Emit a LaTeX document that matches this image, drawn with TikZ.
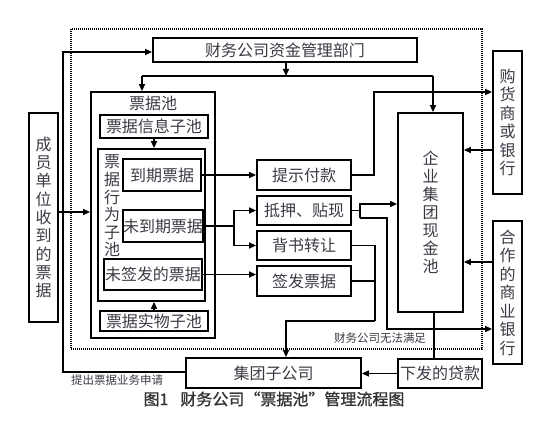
\documentclass[tikz,border=0pt]{standalone}
\usepackage{fontspec}
\setmainfont{Noto Sans CJK SC}
\newfontfamily\capfont[FakeBold=1.2]{Noto Sans CJK SC}
\usetikzlibrary{arrows.meta}
\definecolor{txt}{HTML}{3A3A44}
\begin{document}
\begin{tikzpicture}[x=1pt,y=-1pt,
  box/.style={draw,line width=1.8pt,inner sep=0pt,text=txt,font=\fontsize{16}{18.3}\selectfont,align=center},
  ln/.style={line width=1.5pt},
  arr/.style={ln,-{Triangle[length=7pt,width=6pt]}},
  lbl/.style={text=txt,inner sep=0pt}
]
\useasboundingbox (0,0) rectangle (550,425);
% dotted frame
\draw[line width=1.3pt,dash pattern=on 1pt off 1pt] (71,29) rectangle (482,349);

% nodes
\node[box,minimum width=264pt,minimum height=24pt] (cwb) at (285,50) {财务公司资金管理部门};
\node[box,minimum width=124pt,minimum height=246pt] (pool) at (153,215) {};
\node[lbl,font=\fontsize{16}{18}\selectfont] (pooltitle) at (153,103) {票据池};
\node[box,minimum width=108pt,minimum height=23pt] (info) at (154,126.5) {票据信息子池};
\node[box,minimum width=107pt,minimum height=152pt] (beh) at (151.5,225) {};
\node[lbl,align=center,font=\fontsize{16}{17.6}\selectfont] (behtitle) at (112,206) {票\\据\\行\\为\\子\\池};
\node[box,minimum width=78pt,minimum height=32pt] (due) at (162,175) {到期票据};
\node[box,minimum width=78pt,minimum height=32pt] (undue) at (163,226) {未到期票据};
\node[box,minimum width=98pt,minimum height=31pt] (unis) at (153,274.5) {未签发的票据};
\node[box,minimum width=108pt,minimum height=20pt] (phys) at (154,321) {票据实物子池};
\node[box,minimum width=29pt,minimum height=209pt] (member) at (43.5,217.5) {成\\员\\单\\位\\收\\到\\的\\票\\据};
\node[box,minimum width=94pt,minimum height=30pt] (pay) at (304,175) {提示付款};
\node[box,minimum width=94pt,minimum height=29pt] (pledge) at (304,210.5) {抵押、贴现};
\node[box,minimum width=94pt,minimum height=29pt] (endorse) at (304,245.5) {背书转让};
\node[box,minimum width=94pt,minimum height=30pt] (issue) at (304,281) {签发票据};
\node[box,minimum width=65pt,minimum height=199pt,font=\fontsize{16}{18}\selectfont] (cash) at (430.5,212.5) {企\\业\\集\\团\\现\\金\\池};
\node[box,minimum width=29pt,minimum height=143pt,font=\fontsize{16}{18.4}\selectfont] (buyer) at (507.5,122.5) {购\\货\\商\\或\\银\\行};
\node[box,minimum width=29pt,minimum height=143pt,font=\fontsize{16}{18.5}\selectfont] (bank) at (507.5,292.5) {合\\作\\的\\商\\业\\银\\行};
\node[box,minimum width=175pt,minimum height=30pt] (sub) at (273.5,373) {集团子公司};
\node[box,minimum width=84pt,minimum height=29pt] (loan) at (440,373.5) {下发的贷款};

% labels
\node[lbl,anchor=west,font=\fontsize{11.5}{12}\selectfont] (apply) at (71,380) {提出票据业务申请};
\node[lbl,font=\fontsize{11.5}{12}\selectfont] (cannot) at (380,338) {财务公司无法满足};
\node[lbl,font=\capfont\fontsize{16}{17}\selectfont,text=black!80] (cap) at (274,399) {图1\hspace{12pt}财务公司“票据池”管理流程图};

% coordinates
\coordinate (j) at (286,76);
\coordinate (jl) at (142,76);
\coordinate (jr) at (433,76);
\coordinate (lb) at (63,372);
\coordinate (lt) at (63,52);
\coordinate (m) at (58,212);
\coordinate (us) at (234,226);
\coordinate (p1) at (374,92);
\coordinate (b1) at (493,150);
\coordinate (q1) at (360,204);
\coordinate (q2) at (360,218);
\coordinate (q3) at (387,329);
\coordinate (r1) at (375,321);
\coordinate (r2) at (286,321);
\coordinate (k1) at (493,262);
\coordinate (c1) at (434,312);

% connectors
\draw[arr] (sub.west |- lb) -- (lb) -- (lt) -- (lt -| cwb.west);
\draw[arr] (cwb.south -| j) -- (j);
\draw[ln] (jl) -- (jr);
\draw[arr] (jl) -- (jl |- pool.north);
\draw[arr] (jr) -- (jr |- cash.north);
\draw[arr] (info.south) -- (info.south |- beh.north);
\draw[arr] (phys.north) -- (phys.north |- beh.south);
\draw[arr] (m -| member.east) -- (m -| pool.west);
\draw[arr] (due.east) -- (due.east -| pay.west);
\draw[arr] (undue.east) -- (us) |- (pledge.west);
\draw[arr] (us) |- (endorse.west);
\draw[arr] (unis.east) -- (unis.east -| issue.west);
\draw[arr] (pay.east) -| (p1) -- (p1 -| buyer.west);
\draw[arr] (b1 -| buyer.west) -- (b1 -| cash.east);
\draw[ln] (pledge.east) -- (pledge.east -| q1);
\draw[arr] (q2) -- (q1) -- (q1 -| cash.west);
\draw[arr] (q2) -| (q3) -- (q3 -| bank.west);
\draw[ln] (endorse.east) -| (r1);
\draw[ln] (issue.east) -- (issue.east -| r1);
\draw[arr] (r1) -- (r2) -- (r2 |- sub.north);
\draw[arr] (k1 -| bank.west) -- (k1 -| cash.east);
\draw[ln] (c1 |- cash.south) -- (c1 |- loan.north);
\draw[arr] (loan.west) -- (loan.west -| sub.east);
\end{tikzpicture}
\end{document}
